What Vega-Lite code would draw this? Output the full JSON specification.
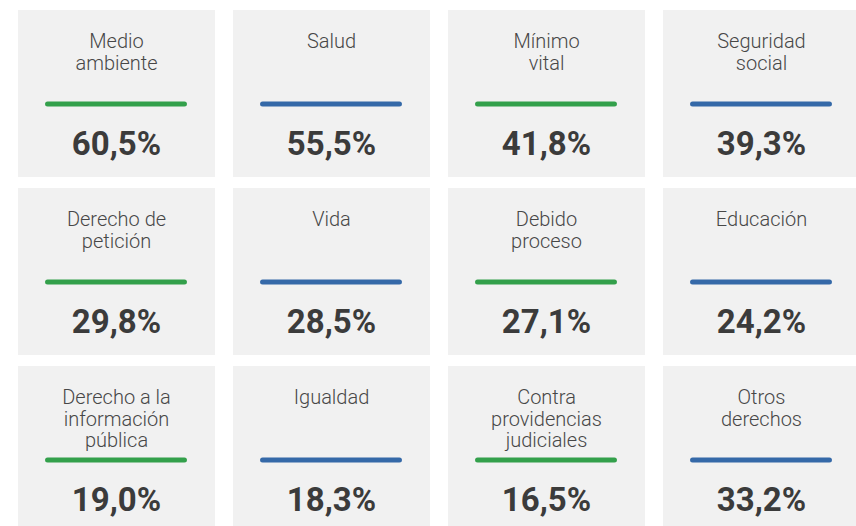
{
  "$schema": "https://vega.github.io/schema/vega-lite/v6.json",
  "background": "white",
  "padding": {"left": 18, "top": 10, "right": 0, "bottom": 0},
  "data": {
    "values": [
      {"tema": "Medio\nambiente", "valor": 0.605, "grupo": "A"},
      {"tema": "Salud", "valor": 0.555, "grupo": "B"},
      {"tema": "Mínimo\nvital", "valor": 0.418, "grupo": "A"},
      {"tema": "Seguridad\nsocial", "valor": 0.393, "grupo": "B"},
      {"tema": "Derecho de\npetición", "valor": 0.298, "grupo": "A"},
      {"tema": "Vida", "valor": 0.285, "grupo": "B"},
      {"tema": "Debido\nproceso", "valor": 0.271, "grupo": "A"},
      {"tema": "Educación", "valor": 0.242, "grupo": "B"},
      {"tema": "Derecho a la\ninformación\npública", "valor": 0.19, "grupo": "A"},
      {"tema": "Igualdad", "valor": 0.183, "grupo": "B"},
      {"tema": "Contra\nprovidencias\njudiciales", "valor": 0.165, "grupo": "A"},
      {"tema": "Otros\nderechos", "valor": 0.332, "grupo": "B"}
    ]
  },
  "columns": 4,
  "spacing": {"column": 18, "row": 11},
  "facet": {
    "field": "tema",
    "type": "nominal",
    "title": null,
    "header": {"labels": false, "title": null, "labelPadding": 0, "titlePadding": 0, "labelExpr": "''", "labelFontSize": 0},
    "sort": [
      "Medio\nambiente", "Salud", "Mínimo\nvital", "Seguridad\nsocial",
      "Derecho de\npetición", "Vida", "Debido\nproceso", "Educación",
      "Derecho a la\ninformación\npública", "Igualdad", "Contra\nprovidencias\njudiciales", "Otros\nderechos"
    ]
  },
  "spec": {
    "width": 197,
    "height": 167,
    "layer": [
      {
        "mark": {"type": "text", "align": "center", "baseline": "alphabetic", "lineBreak": "\n", "font": "Roboto", "fontWeight": 300, "fontSize": 20, "lineHeight": 21.5, "color": "#474747"},
        "encoding": {
          "x": {"datum": 0.5, "type": "quantitative", "scale": {"domain": [0, 1]}, "axis": null},
          "y": {"datum": 0.228, "type": "quantitative", "scale": {"domain": [0, 1], "reverse": true}, "axis": null},
          "text": {"field": "tema", "type": "nominal"}
        }
      },
      {
        "mark": {"type": "rule", "strokeWidth": 5, "strokeCap": "round"},
        "encoding": {
          "x": {"datum": 0.15, "type": "quantitative"},
          "x2": {"datum": 0.845},
          "y": {"datum": 0.563, "type": "quantitative"},
          "color": {"field": "grupo", "type": "nominal", "scale": {"domain": ["A", "B"], "range": ["#33a04b", "#3569a8"]}, "legend": null}
        }
      },
      {
        "mark": {"type": "text", "align": "center", "baseline": "alphabetic", "font": "Roboto", "fontWeight": "bold", "fontSize": 33, "color": "#3b3b3b"},
        "encoding": {
          "x": {"datum": 0.5, "type": "quantitative"},
          "y": {"datum": 0.868, "type": "quantitative"},
          "text": {"field": "valor", "type": "quantitative", "format": ".1%"}
        }
      }
    ]
  },
  "config": {
    "view": {"fill": "#f1f1f1", "stroke": null},
    "header": {"labels": false, "title": null, "labelPadding": 0},
    "headerFacet": {"labels": false, "title": null, "labelPadding": 0},
    "locale": {"number": {"decimal": ",", "thousands": ".", "grouping": [3], "currency": ["", " €"]}}
  }
}
